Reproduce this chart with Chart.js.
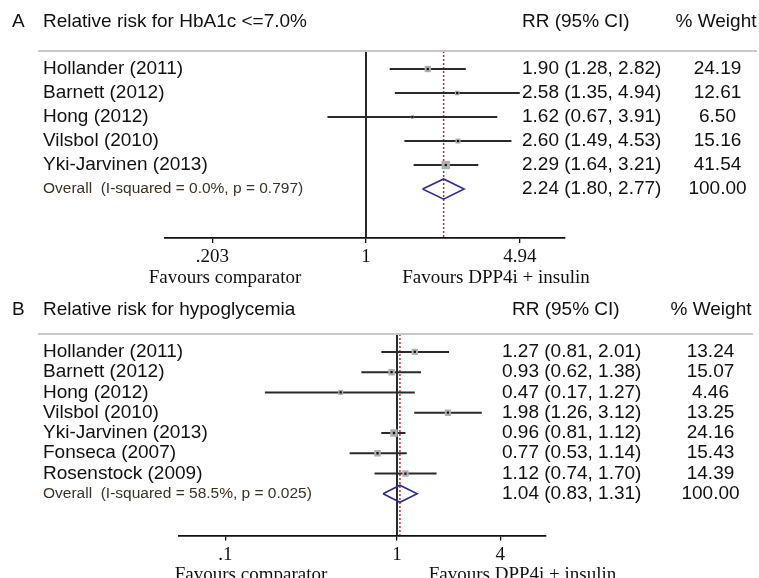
<!DOCTYPE html>
<html>
<head>
<meta charset="utf-8">
<script src="https://cdn.jsdelivr.net/npm/chart.js@4.4.1/dist/chart.umd.min.js"></script>
<style>
  html, body { margin: 0; padding: 0; background: #fff; }
  .panel { position: absolute; left: 0; width: 759px; height: 289px; }
  #panelA { top: 0; }
  #panelB { top: 289px; }
</style>
</head>
<body>
<div class="panel" id="panelA"><canvas id="chartA" width="759" height="289"></canvas></div>
<div class="panel" id="panelB"><canvas id="chartB" width="759" height="289"></canvas></div>
<script>
// Panel A: relative risk for HbA1c <= 7.0%
const studiesA = ['Hollander (2011)', 'Barnett (2012)', 'Hong (2012)', 'Vilsbol (2010)', 'Yki-Jarvinen (2013)'];
const rrA = [1.90, 2.58, 1.62, 2.60, 2.29];
const loA = [1.28, 1.35, 0.67, 1.49, 1.64];
const hiA = [2.82, 4.94, 3.91, 4.53, 3.21];
const weightA = [24.19, 12.61, 6.50, 15.16, 41.54];
const overallA = [2.24, 1.80, 2.77];
const overallLabelA = 'Overall  (I-squared = 0.0%, p = 0.797)';
const ticksA = [0.203, 1, 4.94];
const tickLabelsA = ['.203', '1', '4.94'];

// Panel B: relative risk for hypoglycemia
const studiesB = ['Hollander (2011)', 'Barnett (2012)', 'Hong (2012)', 'Vilsbol (2010)', 'Yki-Jarvinen (2013)', 'Fonseca (2007)', 'Rosenstock (2009)'];
const rrB = [1.27, 0.93, 0.47, 1.98, 0.96, 0.77, 1.12];
const loB = [0.81, 0.62, 0.17, 1.26, 0.81, 0.53, 0.74];
const hiB = [2.01, 1.38, 1.27, 3.12, 1.12, 1.14, 1.70];
const weightB = [13.24, 15.07, 4.46, 13.25, 24.16, 15.43, 14.39];
const overallB = [1.04, 0.83, 1.31];
const overallLabelB = 'Overall  (I-squared = 58.5%, p = 0.025)';
const ticksB = [0.1, 1, 4];
const tickLabelsB = ['.1', '1', '4'];

const SANS = '"Liberation Sans", Arial, sans-serif';
const SERIF = '"Liberation Serif", "Times New Roman", serif';

function rrText(rr, lo, hi) {
  return rr.toFixed(2) + ' (' + lo.toFixed(2) + ', ' + hi.toFixed(2) + ')';
}

// study names, RR column, weights, header and captions
const forestText = {
  id: 'forestText',
  afterDraw(chart, args, o) {
    const ctx = chart.ctx;
    const y = chart.scales.y;
    const area = chart.chartArea;
    const d = o.data;
    ctx.save();
    ctx.strokeStyle = '#c8c8c8';
    ctx.lineWidth = 2;
    ctx.beginPath();
    ctx.moveTo(38, area.top);
    ctx.lineTo(o.ruleEnd, area.top);
    ctx.stroke();

    ctx.fillStyle = '#111';
    ctx.textBaseline = 'middle';
    ctx.font = '19px ' + SANS;
    ctx.textAlign = 'left';
    ctx.fillText(o.letter, 12, o.titleY);
    ctx.fillText(o.title, 43, o.titleY);
    ctx.fillText('RR (95% CI)', o.headX, o.titleY);
    ctx.textAlign = 'center';
    ctx.fillText('% Weight', o.weightHeadX, o.titleY);

    d.studies.forEach((s, i) => {
      const py = y.getPixelForValue(i);
      ctx.textAlign = 'left';
      ctx.fillText(s, 43, py);
      ctx.fillText(rrText(d.rr[i], d.lo[i], d.hi[i]), o.rrX, py);
      ctx.textAlign = 'center';
      ctx.fillText(d.weight[i].toFixed(2), o.weightX, py);
    });
    const py = y.getPixelForValue(d.studies.length);
    const total = d.weight.reduce((a, b) => a + b, 0);
    ctx.textAlign = 'left';
    ctx.fillText(rrText(d.overall[0], d.overall[1], d.overall[2]), o.rrX, py);
    ctx.textAlign = 'center';
    ctx.fillText(total.toFixed(2), o.weightX, py);
    ctx.textAlign = 'left';
    ctx.font = '15.5px ' + SANS;
    ctx.fillStyle = '#3f3020';
    ctx.fillText(d.overallLabel, 43, py);

    ctx.font = '19px ' + SERIF;
    ctx.fillStyle = '#111';
    ctx.textBaseline = 'alphabetic';
    ctx.textAlign = 'center';
    ctx.fillText('Favours comparator', o.favLeftX, o.favY);
    ctx.fillText('Favours DPP4i + insulin', o.favRightX, o.favY);
    ctx.restore();
  }
};

function makeForest(id, d, lay, text) {
  const n = d.studies.length;
  const [est, olo, ohi] = d.overall;
  const datasets = [];
  // no-effect line
  datasets.push({ data: [{ x: 1, y: lay.yMin }, { x: 1, y: lay.yMax }], showLine: true,
    borderColor: '#111', borderWidth: 1.8, pointRadius: 0, order: 6 });
  // pooled estimate line
  datasets.push({ data: [{ x: est, y: lay.yMin }, { x: est, y: lay.yMax }], showLine: true,
    borderColor: '#c8282d', borderWidth: 1.5, borderDash: [2, 2], pointRadius: 0, order: 5 });
  // confidence intervals
  d.studies.forEach((s, i) => {
    datasets.push({ data: [{ x: d.lo[i], y: i }, { x: d.hi[i], y: i }], showLine: true,
      borderColor: '#2a2a2a', borderWidth: 1.9, pointRadius: 0, order: 4 });
  });
  // weight boxes + point estimate
  const pts = d.rr.map((v, i) => ({ x: v, y: i }));
  datasets.push({ data: pts, pointStyle: 'rect', pointRadius: d.weight.map(w => lay.box(w) / Math.SQRT2),
    backgroundColor: '#b0b0b0', borderWidth: 0, order: 3 });
  datasets.push({ data: pts, pointStyle: 'rect', pointRadius: 1.6,
    backgroundColor: '#111', borderWidth: 0, order: 2 });
  // overall diamond
  datasets.push({ data: [{ x: olo, y: n }, { x: est, y: n - 0.42 }, { x: ohi, y: n }, { x: est, y: n + 0.42 }, { x: olo, y: n }],
    showLine: true, borderColor: '#2e2e8c', borderWidth: 1.6, pointRadius: 0, order: 1 });

  text.data = d;
  return new Chart(document.getElementById(id), {
    type: 'scatter',
    data: { datasets },
    plugins: [forestText],
    options: {
      responsive: false,
      animation: false,
      layout: { padding: { left: lay.left, right: 759 - lay.right, top: lay.top, bottom: 0 } },
      plugins: { legend: { display: false }, tooltip: { enabled: false }, forestText: text },
      scales: {
        x: {
          type: 'logarithmic', min: lay.xMin, max: lay.xMax,
          afterBuildTicks: s => { s.ticks = d.ticks.map(v => ({ value: v })); },
          afterFit: s => { s.height = lay.axisH; },
          ticks: {
            callback: v => d.tickLabels[d.ticks.indexOf(v)],
            font: { family: SERIF, size: 19 }, color: '#111', padding: 3,
            maxRotation: 0, autoSkip: false
          },
          grid: { drawOnChartArea: false, drawTicks: true, tickLength: 5, color: '#111', lineWidth: 1.3 },
          border: { display: true, color: '#111', width: 1.8 }
        },
        y: { type: 'linear', reverse: true, min: lay.yMin, max: lay.yMax, display: false }
      }
    }
  });
}

makeForest('chartA',
  { studies: studiesA, rr: rrA, lo: loA, hi: hiA, weight: weightA, overall: overallA,
    overallLabel: overallLabelA, ticks: ticksA, tickLabels: tickLabelsA },
  { left: 165, right: 565, top: 51, axisH: 51, yMin: -0.75, yMax: 7.04, xMin: 0.124, xMax: 7.9,
    box: w => 1.3 * Math.sqrt(w) },
  { letter: 'A', title: 'Relative risk for HbA1c <=7.0%', titleY: 22, headX: 522, weightHeadX: 716,
    rrX: 522, weightX: 717.5, ruleEnd: 757, favY: 283, favLeftX: 225, favRightX: 496 });

makeForest('chartB',
  { studies: studiesB, rr: rrB, lo: loB, hi: hiB, weight: weightB, overall: overallB,
    overallLabel: overallLabelB, ticks: ticksB, tickLabels: tickLabelsB },
  { left: 179, right: 546, top: 45, axisH: 42.5, yMin: -0.887, yMax: 9.06, xMin: 0.0537, xMax: 7.38,
    box: w => 3 + 0.9 * Math.sqrt(w) },
  { letter: 'B', title: 'Relative risk for hypoglycemia', titleY: 21, headX: 512, weightHeadX: 711,
    rrX: 502, weightX: 710.5, ruleEnd: 753, favY: 291, favLeftX: 251, favRightX: 522.5 });
</script>
</body>
</html>
